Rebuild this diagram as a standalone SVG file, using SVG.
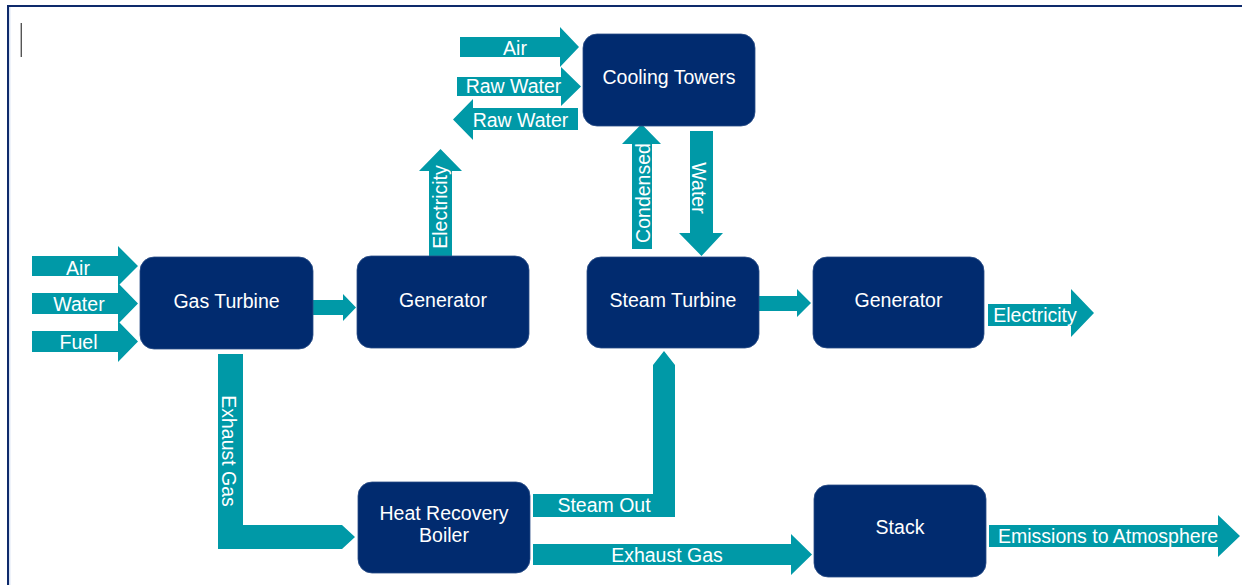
<svg xmlns="http://www.w3.org/2000/svg" width="1242" height="585" viewBox="0 0 1242 585">
<style>
.node rect{fill:#012B6F;stroke:#2a4c86;stroke-width:0.8}
.node text{fill:#ffffff;font-family:"Liberation Sans",Arial,sans-serif;font-size:19.5px;text-anchor:middle}
.arr{fill:#0099A7}
.lbl{fill:#ffffff;font-family:"Liberation Sans",Arial,sans-serif;font-size:19.5px;text-anchor:middle}
</style>
<rect x="0" y="0" width="1242" height="585" fill="#ffffff"/>
<g id="frame">
<line x1="7" y1="6" x2="1242" y2="6" stroke="#0E2A6B" stroke-width="2"/>
<line x1="8" y1="5" x2="8" y2="585" stroke="#0E2A6B" stroke-width="2"/>
<line x1="9.8" y1="7" x2="9.8" y2="585" stroke="#c9d7ee" stroke-width="1"/>
<line x1="21.3" y1="23" x2="21.3" y2="57" stroke="#555555" stroke-width="1.4"/>
</g>
<g id="connectors">
<polygon class="arr" points="32,256 118,256 118,246 138,266 118,286 118,276 32,276"/>
<text class="lbl" x="78" y="275">Air</text>
<polygon class="arr" points="32,293 118,293 118,283 138,303.5 118,324 118,314 32,314"/>
<text class="lbl" x="79" y="311">Water</text>
<polygon class="arr" points="32,331 118,331 118,321 138,341.5 118,362 118,352 32,352"/>
<text class="lbl" x="78.5" y="349">Fuel</text>
<polygon class="arr" points="313,300 343,300 343,294 356,307.5 343,321 343,315 313,315"/>
<polygon class="arr" points="429,256 429,171 419,171 440.5,149 462,171 452,171 452,256"/>
<text class="lbl" transform="translate(447,207) rotate(-90)">Electricity</text>
<polygon class="arr" points="632,249 632,144 622,144 641.5,124 661,144 652,144 652,249"/>
<text class="lbl" transform="translate(650,193) rotate(-90)">Condensed</text>
<polygon class="arr" points="690,131 713,131 713,233 723,233 701.5,256 679,233 690,233"/>
<text class="lbl" transform="translate(692,188) rotate(90)">Water</text>
<polygon class="arr" points="460,37 560,37 560,27 579,47 560,67 560,57 460,57"/>
<text class="lbl" x="515" y="55">Air</text>
<polygon class="arr" points="457,77 561,77 561,67 581,86.5 561,106 561,96 457,96"/>
<text class="lbl" x="513.5" y="93">Raw Water</text>
<polygon class="arr" points="578,108 578,130 473,130 473,140 453,119.5 473,99 473,108"/>
<text class="lbl" x="520.5" y="127">Raw Water</text>
<polygon class="arr" points="758,296 797,296 797,289 811,303 797,317 797,311 758,311"/>
<polygon class="arr" points="988,304 1071,304 1071,289 1094,313 1071,337 1071,326 988,326"/>
<text class="lbl" x="1035" y="322">Electricity</text>
<polygon class="arr" points="218,354 243,354 243,525 342,525 355,537 342,549 218,549"/>
<text class="lbl" transform="translate(222,451) rotate(90)">Exhaust Gas</text>
<polygon class="arr" points="533,494 653,494 653,365 664,351 675,365 675,517 533,517"/>
<text class="lbl" x="604" y="512">Steam Out</text>
<polygon class="arr" points="533,544 791,544 791,534 812,554.5 791,575 791,565 533,565"/>
<text class="lbl" x="667" y="562">Exhaust Gas</text>
<polygon class="arr" points="989,525 1218,525 1218,515 1240,536 1218,557 1218,547 989,547"/>
<text class="lbl" x="1108" y="543">Emissions to Atmosphere</text>
</g>
<g id="gas-turbine" class="node"><rect x="140" y="257" width="173" height="92" rx="14"/><text x="226.5" y="308">Gas Turbine</text></g>
<g id="generator-1" class="node"><rect x="357" y="256" width="172" height="92" rx="14"/><text x="443" y="307">Generator</text></g>
<g id="steam-turbine" class="node"><rect x="587" y="257" width="172" height="91" rx="14"/><text x="673" y="307">Steam Turbine</text></g>
<g id="generator-2" class="node"><rect x="813" y="257" width="171" height="91" rx="14"/><text x="898.5" y="307">Generator</text></g>
<g id="cooling-towers" class="node"><rect x="583" y="34" width="172" height="92" rx="14"/><text x="669" y="84">Cooling Towers</text></g>
<g id="heat-recovery-boiler" class="node"><rect x="358" y="482" width="172" height="91" rx="14"/><text x="444" y="520">Heat Recovery</text><text x="444" y="542">Boiler</text></g>
<g id="stack" class="node"><rect x="814" y="485" width="172" height="92" rx="14"/><text x="900" y="534">Stack</text></g>
</svg>
